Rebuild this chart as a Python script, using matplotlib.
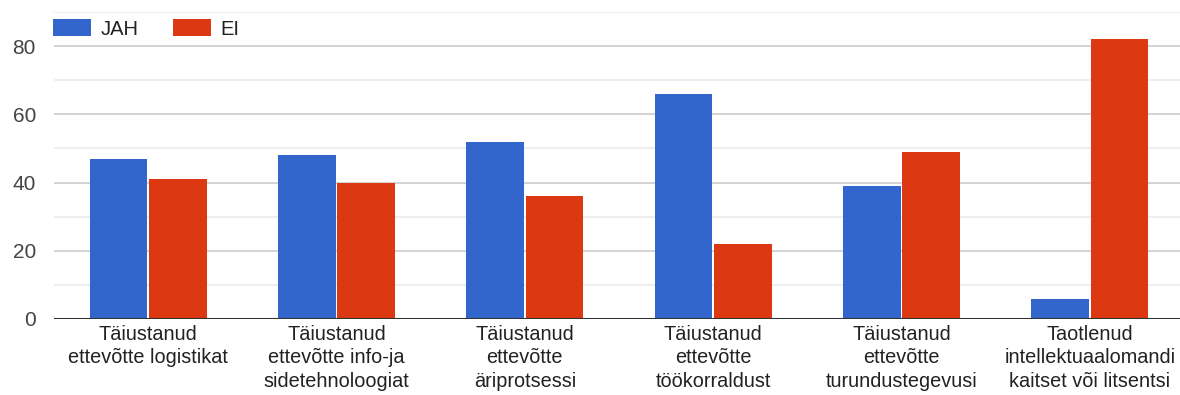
import numpy as np
import matplotlib.pyplot as plt

categories = [
    "Täiustanud\nettevõtte logistikat",
    "Täiustanud\nettevõtte info-ja\nsidetehnoloogiat",
    "Täiustanud\nettevõtte\näriprotsessi",
    "Täiustanud\nettevõtte\ntöökorraldust",
    "Täiustanud\nettevõtte\nturundustegevusi",
    "Taotlenud\nintellektuaalomandi\nkaitset või litsentsi",
]
jah = [47, 48, 52, 66, 39, 6]
ei = [41, 40, 36, 22, 49, 82]

plt.rcParams['font.family'] = ['Liberation Sans', 'DejaVu Sans']

blue = '#3366cc'
red = '#dc3912'

fig = plt.figure(figsize=(11.8, 3.95), dpi=100)
# plot area runs past the right edge, like the cropped screenshot
ax = fig.add_axes([54 / 1180, 76 / 395, 1130 / 1180, 307 / 395])

x = np.arange(len(categories))
w = 0.305
ax.bar(x - w / 2 - 0.005, jah, w, color=blue, label='JAH', zorder=3)
ax.bar(x + w / 2 + 0.005, ei, w, color=red, label='EI', zorder=3)

ax.set_xlim(-0.5, len(categories) - 0.5)
ax.set_ylim(0, 90)
ax.set_yticks([0, 20, 40, 60, 80])
ax.set_yticks([10, 30, 50, 70, 90], minor=True)
ax.grid(axis='y', which='major', color='#cccccc', linewidth=1.2, zorder=0)
ax.grid(axis='y', which='minor', color='#ebebeb', linewidth=1.2, zorder=0)
ax.axhline(0, color='#333333', linewidth=1.5, zorder=4)

for s in ax.spines.values():
    s.set_visible(False)
ax.tick_params(axis='both', which='both', length=0)
ax.tick_params(axis='y', labelsize=15, labelcolor='#444444', pad=13)
ax.set_xticks(x)
ax.set_xticklabels(categories, fontsize=14.3, color='#222222', linespacing=1.3)
ax.tick_params(axis='x', pad=4)

leg = ax.legend(loc='center left', bbox_to_anchor=(53 / 1180, 1 - 29 / 395),
                bbox_transform=fig.transFigure, ncol=2, frameon=False,
                fontsize=14.5, handlelength=1.9, handleheight=0.9, columnspacing=1.7,
                handletextpad=0.45, borderpad=0, borderaxespad=0, labelcolor='#222222')

fig.savefig('out.png', dpi=100)
